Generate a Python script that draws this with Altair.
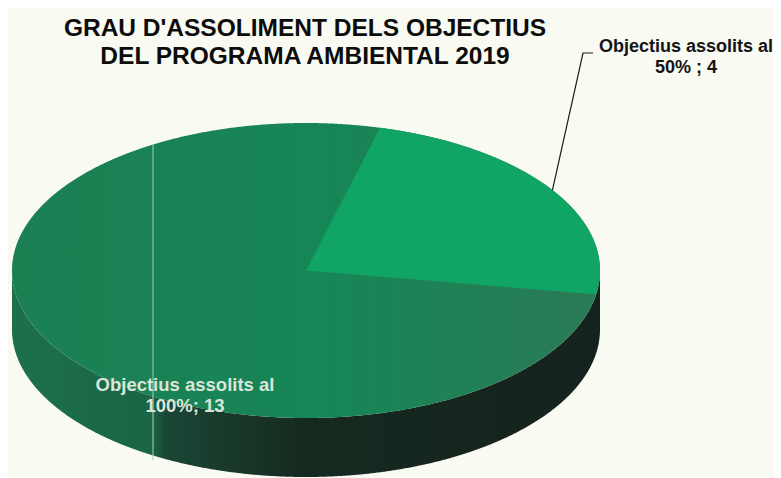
import numpy as np
import pandas as pd
import altair as alt

# values
labels = ["Objectius assolits al 50%", "Objectius assolits al 100%"]
values = [4, 13]
title_lines = ["GRAU D'ASSOLIMENT DELS OBJECTIUS", "DEL PROGRAMA AMBIENTAL 2019"]
label_50 = ["Objectius assolits al", "50% ; 4"]
label_100 = ["Objectius assolits al", "100%; 13"]

W, H = 765, 470
CX, CY, A, B = 306.0, 270.5, 294.0, 147.5
DEPTH = 59.0 / B
START_DEG = 14.6

def ux(px):
    return (px - CX) / A

def uy(py):
    return (CY - py) / B

xscale = alt.Scale(domain=[ux(8), ux(8 + W)], nice=False, zero=False)
yscale = alt.Scale(domain=[uy(8 + H), uy(8)], nice=False, zero=False)
X = lambda f="x": alt.X(f"{f}:Q", scale=xscale, axis=None)
Y = lambda f="y": alt.Y(f"{f}:Q", scale=yscale, axis=None)

# ellipse sampling
t = np.linspace(np.pi, 0, 721)
xs = np.cos(t)
half = np.sqrt(np.clip(1 - xs ** 2, 0, None))
top_df = pd.DataFrame({"x": xs, "y": half, "y2": -half})
side_df = pd.DataFrame({"x": xs, "y": -half, "y2": -half - DEPTH})

# slice of value 4 derived from the data
a0 = np.radians(START_DEG)
a1 = a0 + 2 * np.pi * values[0] / sum(values)
amid = (a0 + a1) / 2
sx, sy = np.sin(a0), np.cos(a0)
ex, ey = np.sin(a1), np.cos(a1)
wx = np.unique(np.concatenate([np.sin(np.linspace(0, np.pi / 2, 500)), [sx, ex]]))
ell = np.sqrt(np.clip(1 - wx ** 2, 0, None))
upper = np.where(wx < sx, wx * sy / sx, ell)
lower = np.where(wx < ex, wx * ey / ex, -ell)
wedge_df = pd.DataFrame({"x": wx, "y": upper, "y2": lower})


def grad(stops):
    return alt.Gradient(
        gradient="linear", x1=0, x2=1, y1=0, y2=0,
        stops=[alt.GradientStop(offset=o, color=c) for o, c in stops],
    )


side = alt.Chart(side_df).mark_area(
    color=grad([(0, "#1c7049"), (0.24, "#1a6544"), (0.26, "#1a4635"),
                (0.5, "#16291f"), (1, "#15231e")])
).encode(x=X(), y=Y(), y2="y2:Q")

top = alt.Chart(top_df).mark_area(
    color=grad([(0, "#1b7f52"), (0.55, "#178656"), (1, "#2a7a56")])
).encode(x=X(), y=Y(), y2="y2:Q")

wedge = alt.Chart(wedge_df).mark_area(color="#10a564").encode(x=X(), y=Y(), y2="y2:Q")

crease = alt.Chart(pd.DataFrame({"x": [ux(153)], "y": [uy(144)], "y2": [uy(460)]})).mark_rule(
    color="#a9cdb8", strokeWidth=1
).encode(x=X(), y=Y(), y2="y2:Q")

leader_df = pd.DataFrame({
    "x": [np.sin(amid), ux(583), ux(593)],
    "y": [np.cos(amid), uy(53), uy(53)],
    "o": [0, 1, 2],
})
leader = alt.Chart(leader_df).mark_line(color="#1a1a1a", strokeWidth=1.2).encode(
    x=X(), y=Y(), order="o:Q"
)


def text_layer(lines, cx, baselines, size, color):
    df = pd.DataFrame({"t": lines, "x": [ux(cx)] * len(lines), "y": [uy(b) for b in baselines]})
    return alt.Chart(df).mark_text(
        font="Liberation Sans", fontWeight="bold", fontSize=size, color=color,
        align="center", baseline="alphabetic",
    ).encode(x=X(), y=Y(), text="t:N")


title = text_layer(title_lines, 305, [36, 64], 24.5, "#0c0c0c")
lab50 = text_layer(label_50, 686, [52, 73], 18, "#141414")
lab100 = text_layer(label_100, 185, [391, 412], 18.5, "#dbe6da")

chart = alt.layer(side, top, wedge, crease, leader, title, lab50, lab100).properties(
    width=W, height=H, background="#f9faf2",
    padding=0, autosize=alt.AutoSizeParams(type="none"),
).configure_view(stroke=None)

chart.save("out.html", embed_options={"renderer": "svg", "actions": False})
